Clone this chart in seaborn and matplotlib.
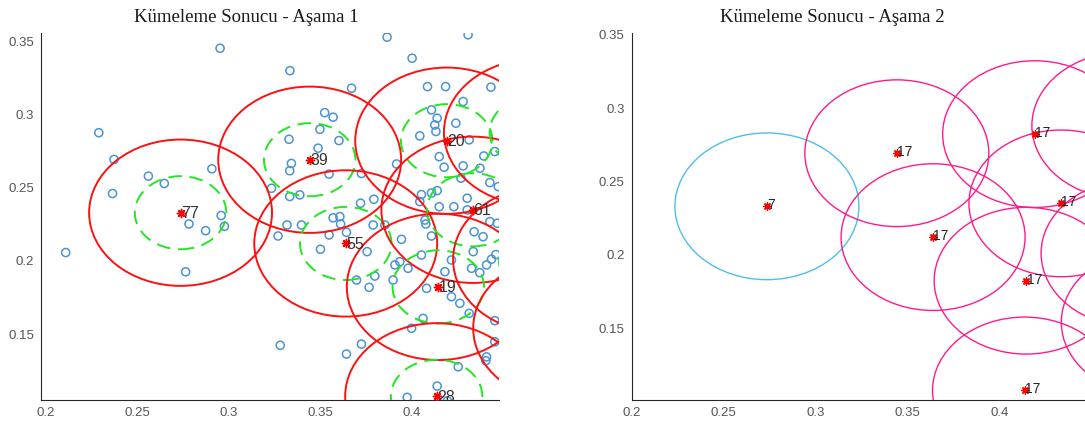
import matplotlib
matplotlib.use("Agg")
import matplotlib.pyplot as plt
from matplotlib.patches import Circle
import seaborn as sns

# data points shown in stage 1
pt_x = [0.2107, 0.2288, 0.2371, 0.2363, 0.2559, 0.2646, 0.2906, 0.2951, 0.2957, 0.2763,
        0.2781, 0.2872, 0.2975, 0.3280,
        0.3333, 0.3670, 0.3523, 0.3569, 0.3497, 0.3328, 0.3601, 0.3487, 0.3341, 0.3332,
        0.3547, 0.3724, 0.3232, 0.3332, 0.3387, 0.3719, 0.3792, 0.3569, 0.3606, 0.3610,
        0.3268, 0.3317, 0.3396, 0.3500, 0.3547, 0.3642, 0.3788, 0.3755, 0.3697, 0.3797,
        0.3766, 0.3642, 0.3724, 0.3864, 0.3916,
        0.4307, 0.4001, 0.4085, 0.4184, 0.4432, 0.4280, 0.4107, 0.4138, 0.4125, 0.4131,
        0.4240, 0.4043, 0.4313, 0.4453, 0.4149, 0.4176, 0.4280, 0.4393, 0.4372, 0.4268,
        0.4426, 0.4472, 0.4302, 0.4052, 0.4107, 0.4138, 0.4043, 0.4149, 0.4229, 0.4302,
        0.3852, 0.3943, 0.4071, 0.4076, 0.4107, 0.4340, 0.4389, 0.4426, 0.4466, 0.4052,
        0.3934, 0.3979, 0.3907, 0.3897, 0.4216, 0.4335, 0.4326, 0.4371, 0.4408, 0.4435,
        0.4459, 0.4180, 0.4080, 0.4216, 0.4262, 0.4313, 0.4453, 0.4453, 0.4408, 0.4404,
        0.4061, 0.3998, 0.4253, 0.4138, 0.3974, 0.4194]
pt_y = [0.2058, 0.2877, 0.2694, 0.2461, 0.2580, 0.2530, 0.2630, 0.3454, 0.2311, 0.1926,
        0.2253, 0.2207, 0.2237, 0.1424,
        0.3301, 0.3181, 0.3014, 0.2983, 0.2900, 0.2832, 0.2823, 0.2771, 0.2667, 0.2617,
        0.2594, 0.2598, 0.2497, 0.2441, 0.2452, 0.2395, 0.2422, 0.2295, 0.2303, 0.2253,
        0.2171, 0.2246, 0.2246, 0.2080, 0.2178, 0.2196, 0.2246, 0.2064, 0.1870, 0.1897,
        0.1820, 0.1364, 0.1432, 0.3530, 0.2663,
        0.3546, 0.3386, 0.3192, 0.3192, 0.3188, 0.3090, 0.3033, 0.2976, 0.2930, 0.2885,
        0.2942, 0.2855, 0.2828, 0.2748, 0.2713, 0.2641, 0.2650, 0.2718, 0.2634, 0.2566,
        0.2536, 0.2508, 0.2429, 0.2454, 0.2465, 0.2481, 0.2406, 0.2371, 0.2371, 0.2349,
        0.2246, 0.2148, 0.2280, 0.2253, 0.2171, 0.2200, 0.2166, 0.2269, 0.2258, 0.2041,
        0.1995, 0.1950, 0.1973, 0.1870, 0.2007, 0.2064, 0.1950, 0.1920, 0.1973, 0.2012,
        0.2044, 0.1927, 0.1813, 0.1756, 0.1711, 0.1642, 0.1592, 0.1448, 0.1345, 0.1318,
        0.1608, 0.1540, 0.1277, 0.1145, 0.1068, 0.1044]

# cluster centres (last three lie past the visible range)
cen_x = [0.2735, 0.3441, 0.4190, 0.3638, 0.4333, 0.4144, 0.4135, 0.4675, 0.4725, 0.4835]
cen_y = [0.2330, 0.2692, 0.2822, 0.2120, 0.2350, 0.1823, 0.1075, 0.2880, 0.2010, 0.1540]
stage1_labels = ["77", "39", "20", "55", "61", "19", "28"]
stage2_labels = ["7", "17", "17", "17", "17", "17", "17"]

r_outer = 0.05
r_inner = 0.025

xticks = [0.2, 0.25, 0.3, 0.35, 0.4]
xtick_labels = ["0.2", "0.25", "0.3", "0.35", "0.4"]
yticks = [0.15, 0.2, 0.25, 0.3, 0.35]
ytick_labels = ["0.15", "0.2", "0.25", "0.3", "0.35"]

sns.set_style("white")
plt.rcParams["font.family"] = ["Liberation Sans", "DejaVu Sans"]

fig = plt.figure(figsize=(10.85, 4.3), dpi=100)
ax1 = fig.add_axes([0.0378, 0.0698, 0.4221, 0.853])
ax2 = fig.add_axes([0.5822, 0.0698, 0.4221, 0.853])

star = (8, 2, 0)

# stage 1: points, outer (red) and inner (green dashed) circles
sns.scatterplot(x=pt_x, y=pt_y, ax=ax1, marker="o", s=34, facecolor="none",
                edgecolor="#4a93d4", linewidth=1.1, zorder=2)
for x, y in zip(cen_x, cen_y):
    ax1.add_patch(Circle((x, y), r_outer, fill=False, ec="#ff1010", lw=1.4, zorder=3))
    ax1.add_patch(Circle((x, y), r_inner, fill=False, ec="#22e622", lw=1.4,
                         ls=(0, (7, 4)), zorder=3))
sns.scatterplot(x=cen_x, y=cen_y, ax=ax1, marker=star, s=34, color="red",
                linewidth=1.1, zorder=4)
for x, y, lab in zip(cen_x, cen_y, stage1_labels):
    ax1.text(x + 0.0004, y - 0.0005, lab, fontsize=11.5, color="#333333", va="center",
             ha="left", zorder=5, clip_on=True)
ax1.set_xlim(0.1972, 0.4476)
ax1.set_ylim(0.105, 0.3557)

# stage 2: merged cluster circles
ring_colors = ["#4dbeee"] + ["#ff1a8c"] * (len(cen_x) - 1)
for x, y, c in zip(cen_x, cen_y, ring_colors):
    ax2.add_patch(Circle((x, y), r_outer, fill=False, ec=c, lw=1.0, zorder=3))
sns.scatterplot(x=cen_x, y=cen_y, ax=ax2, marker=star, s=26, color="red",
                linewidth=1.0, zorder=4)
for x, y, lab in zip(cen_x, cen_y, stage2_labels):
    ax2.text(x + 0.0002, y + 0.0008, lab, fontsize=10, color="#222222", va="center",
             ha="left", zorder=5, clip_on=True)
ax2.set_xlim(0.2, 0.4489)
ax2.set_ylim(0.101, 0.351)

titles = ["Kümeleme Sonucu - Aşama 1", "Kümeleme Sonucu - Aşama 2"]
for ax, title, tx in zip([ax1, ax2], titles, [0.448, 0.439]):
    ax.set_xticks(xticks)
    ax.set_xticklabels(xtick_labels)
    ax.set_yticks(yticks)
    ax.set_yticklabels(ytick_labels)
    ax.tick_params(direction="in", length=3.5, width=0.8, color="#262626",
                   labelcolor="#555555", labelsize=9.5, pad=5)
    for side in ["top", "right"]:
        ax.spines[side].set_visible(False)
    for side in ["left", "bottom"]:
        ax.spines[side].set_color("#262626")
        ax.spines[side].set_linewidth(0.8)
    ax.set_title(title, family="Liberation Serif", fontsize=13.5, x=tx, pad=8,
                 color="#1a1a1a")

fig.savefig("out.png", dpi=100)
